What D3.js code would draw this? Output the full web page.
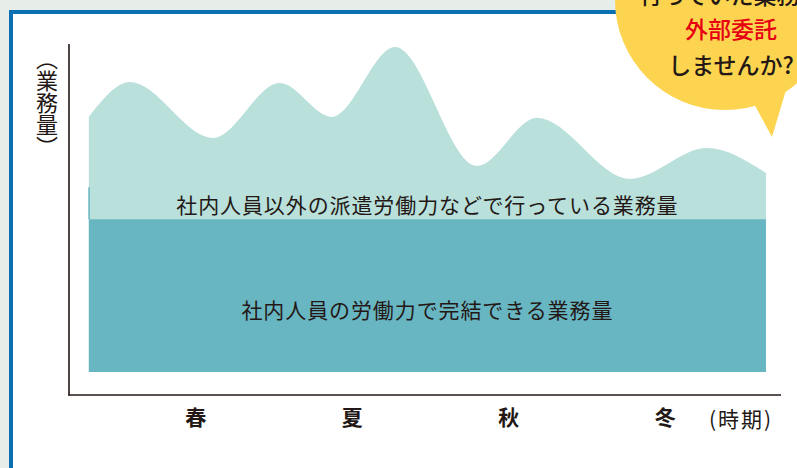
<!DOCTYPE html>
<html lang="ja">
  <head>
    <meta charset="utf-8" />
    <title>業務量の季節変動</title>
    <script src="https://d3js.org/d3.v7.min.js"></script>
    <style>
      body { margin: 0; background: #e7eee9; }
      text { font-family: "Noto Sans CJK JP", "Noto Sans", sans-serif; }
    </style>
  </head>
  <body>
    <div class="chart"></div>
    <script>
      const w = 797;
      const h = 468;

      // data (month position, workload)
      const months = [-0.54, 0.25, 1.84, 3.12, 4.12, 5.33, 6.9, 8.05, 9.83, 11.31, 12.44];
      const workload = [78.5, 89.2, 72, 88.9, 78.5, 100, 63.4, 78.2, 59.4, 68.9, 61.2];
      const capacity = 47;
      const seasons = ["春", "夏", "秋", "冬"];
      const seasonPos = [1.5, 4.5, 7.5, 10.5];
      const outerLabel = "社内人員以外の派遣労働力などで行っている業務量";
      const innerLabel = "社内人員の労働力で完結できる業務量";
      const bubbleLines = ["行っていた業務を", "外部委託", "しませんか?"];

      const svg = d3.select(".chart").append("svg")
        .attr("width", w)
        .attr("height", h);

      // frame
      svg.append("rect")
        .attr("width", w).attr("height", h)
        .attr("fill", "#e7eee9");
      svg.append("rect")
        .attr("x", 11).attr("y", 12)
        .attr("width", w + 20).attr("height", h + 20)
        .attr("fill", "#ffffff")
        .attr("stroke", "#0b70b2")
        .attr("stroke-width", 4);

      const x = d3.scaleLinear().domain([0, 12]).range([117, 743]);
      const y = d3.scaleLinear().domain([0, 100]).range([372, 47]);

      const pts = months.map((m, i) => ({ m: m, v: workload[i] }));

      const area = d3.area()
        .x(d => x(d.m))
        .y0(y(0))
        .y1(d => y(d.v))
        .curve(d3.curveMonotoneX);

      svg.append("path")
        .datum(pts)
        .attr("d", area)
        .attr("fill", "#b9e0db");

      // internal capacity block
      svg.append("rect")
        .attr("x", x(months[0]))
        .attr("y", y(capacity))
        .attr("width", x(months[months.length - 1]) - x(months[0]))
        .attr("height", y(0) - y(capacity))
        .attr("fill", "#69b6c3");
      svg.append("rect")
        .attr("x", x(months[0]) - 0.5)
        .attr("y", y(capacity) - 32)
        .attr("width", 1.5)
        .attr("height", 32)
        .attr("fill", "#69b6c3");

      const midX = (x(months[0]) + x(months[months.length - 1])) / 2;
      svg.append("text")
        .attr("x", midX).attr("y", 213)
        .attr("text-anchor", "middle")
        .attr("font-size", 21)
        .attr("letter-spacing", 0.9)
        .attr("fill", "#231815")
        .text(outerLabel);
      svg.append("text")
        .attr("x", midX).attr("y", 318)
        .attr("text-anchor", "middle")
        .attr("font-size", 21)
        .attr("letter-spacing", 0.9)
        .attr("fill", "#231815")
        .text(innerLabel);

      // axes
      svg.append("line")
        .attr("x1", 69).attr("x2", 69)
        .attr("y1", 44).attr("y2", 395.5)
        .attr("stroke", "#231815").attr("stroke-width", 1.6);
      svg.append("line")
        .attr("x1", 68.2).attr("x2", 781)
        .attr("y1", 395).attr("y2", 395)
        .attr("stroke", "#231815").attr("stroke-width", 1.6);

      const xAxis = d3.axisBottom(x)
        .tickValues(seasonPos)
        .tickSize(0)
        .tickPadding(0)
        .tickFormat((d, i) => seasons[i]);

      const gx = svg.append("g")
        .attr("transform", "translate(0,410)")
        .call(xAxis);
      gx.select(".domain").remove();
      gx.selectAll("text")
        .attr("font-size", 21)
        .attr("font-weight", "bold")
        .attr("fill", "#231815")
        .attr("font-family", "Noto Sans CJK JP");

      svg.append("text")
        .attr("x", 741).attr("y", 427)
        .attr("text-anchor", "middle")
        .attr("font-size", 21)
        .attr("letter-spacing", 2)
        .attr("fill", "#231815")
        .text("(時期)");

      svg.append("text")
        .attr("x", 47).attr("y", 103)
        .attr("text-anchor", "middle")
        .attr("dominant-baseline", "central")
        .attr("writing-mode", "vertical-rl")
        .attr("font-size", 22)
        .attr("fill", "#231815")
        .text("（業務量）");

      // speech bubble
      svg.append("circle")
        .attr("cx", 725).attr("cy", 0).attr("r", 110)
        .attr("fill", "#fdd44f");
      svg.append("path")
        .attr("d", "M752,100 L772,137 L786,90 Z")
        .attr("fill", "#fdd44f");

      const bubbleY = [4, 38, 74];
      svg.selectAll(".bubble")
        .data(bubbleLines)
        .join("text")
        .attr("class", "bubble")
        .attr("x", 731)
        .attr("y", (d, i) => bubbleY[i])
        .attr("text-anchor", "middle")
        .attr("font-size", 23)
        .attr("font-weight", 500)
        .attr("fill", (d, i) => (i === 1 ? "#e60012" : "#231815"))
        .text(d => d);
    </script>
  </body>
</html>
